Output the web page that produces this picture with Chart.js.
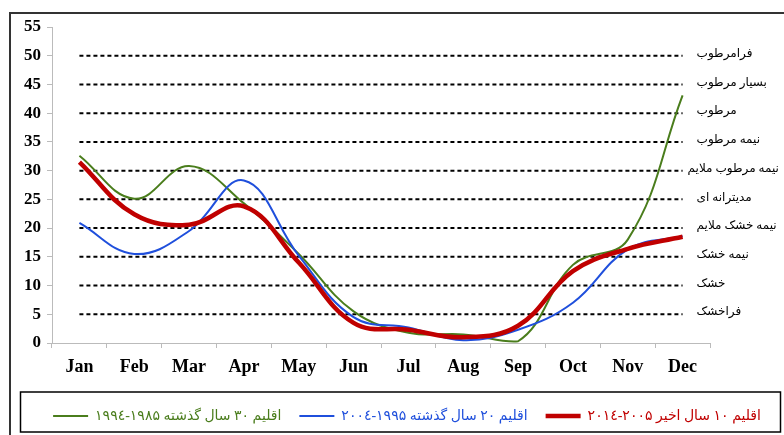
<!DOCTYPE html>
<html>
<head>
<meta charset="utf-8">
<script src="https://cdn.jsdelivr.net/npm/chart.js@4.4.1/dist/chart.umd.min.js"></script>
<style>
  html, body { margin: 0; padding: 0; background: #fff; }
  #wrap { width: 784px; height: 435px; position: relative; }
</style>
</head>
<body>
<div id="wrap"><canvas id="chart"></canvas></div>
<script>
const months = ['Jan', 'Feb', 'Mar', 'Apr', 'May', 'Jun', 'Jul', 'Aug', 'Sep', 'Oct', 'Nov', 'Dec'];

// climate index per month
const climate1985 = [32.6, 25.1, 30.8, 24.3, 15.5, 5.5, 1.8, 1.5, 0.3, 13.6, 18.0, 43.1];
const climate1995 = [20.9, 15.5, 19.5, 28.3, 15.2, 4.5, 2.7, 0.5, 2.3, 7.0, 16.3, 18.6];
const climate2005 = [31.5, 22.4, 20.6, 23.8, 14.0, 3.5, 2.3, 1.0, 3.0, 12.5, 16.4, 18.5];

const seriesNames = [
  'اقلیم ۳۰ سال گذشته ۱۹۸۵-۱۹۹٤',
  'اقلیم ۲۰ سال گذشته ۱۹۹۵-۲۰۰٤',
  'اقلیم ۱۰ سال اخیر ۲۰۰۵-۲۰۱٤'
];

// climate zone boundaries (dashed lines) and their names
const zoneLimits = [5, 10, 15, 20, 25, 30, 35, 40, 45, 50];
const zoneNames = ['فراخشک', 'خشک', 'نیمه خشک', 'نیمه خشک ملایم', 'مدیترانه ای',
  'نیمه مرطوب ملایم', 'نیمه مرطوب', 'مرطوب', 'بسیار مرطوب', 'فرامرطوب'];

const yMin = 0, yMax = 55, yStep = 5;

const serif = '"Liberation Serif", "Times New Roman", "DejaVu Sans", serif';

const zoneDatasets = zoneLimits.map((v, i) => ({
  label: zoneNames[i],
  data: months.map(() => v),
  borderColor: '#000',
  borderWidth: 2,
  borderDash: [4, 3],
  pointRadius: 0,
  tension: 0,
  order: 10,
  isZone: true
}));

const zoneLabels = {
  id: 'zoneLabels',
  afterDatasetsDraw(chart) {
    const ctx = chart.ctx;
    ctx.save();
    ctx.font = '12px ' + serif;
    ctx.fillStyle = '#000';
    ctx.textBaseline = 'middle';
    ctx.textAlign = 'left';
    ctx.direction = 'rtl';
    chart.data.datasets.forEach((ds, i) => {
      if (!ds.isZone) return;
      const pts = chart.getDatasetMeta(i).data;
      const p = pts[pts.length - 1];
      const w = ctx.measureText(ds.label).width;
      const x = w > 85 ? p.x + 5 : p.x + 14;
      ctx.fillText(ds.label, x, p.y - 2);
    });
    ctx.restore();
  }
};

// legend sits a little right of centre, inside its framed box
const legendShift = {
  id: 'legendShift',
  afterLayout(chart) {
    chart.legend.left += 30;
  }
};

const frames = {
  id: 'frames',
  afterDraw(chart) {
    const ctx = chart.ctx;
    const lg = chart.legend;
    ctx.save();
    ctx.strokeStyle = '#333';
    ctx.lineWidth = 2;
    ctx.strokeRect(10, 13, 800, 500);
    ctx.strokeStyle = '#000';
    ctx.lineWidth = 1.5;
    ctx.strokeRect(20.5, lg.top + 1, 760, lg.height - 2);
    ctx.restore();
  }
};

new Chart(document.getElementById('chart'), {
  type: 'line',
  data: {
    labels: months,
    datasets: [
      { label: seriesNames[0], data: climate1985, borderColor: '#4a7d1c', backgroundColor: '#4a7d1c',
        borderWidth: 2, pointRadius: 0, tension: 0.4, order: 3 },
      { label: seriesNames[1], data: climate1995, borderColor: '#1f4fdc', backgroundColor: '#1f4fdc',
        borderWidth: 2, pointRadius: 0, tension: 0.4, order: 2 },
      { label: seriesNames[2], data: climate2005, borderColor: '#c00000', backgroundColor: '#c00000',
        borderWidth: 4.5, pointRadius: 0, tension: 0.4, order: 1 },
      ...zoneDatasets
    ]
  },
  options: {
    responsive: true,
    maintainAspectRatio: false,
    animation: false,
    layout: { padding: { top: 27, right: 0, left: 0, bottom: 2 } },
    plugins: {
      tooltip: { enabled: false },
      legend: {
        position: 'bottom',
        textDirection: 'rtl',
        labels: {
          font: { family: serif, size: 14 },
          usePointStyle: true,
          pointStyle: 'line',
          pointStyleWidth: 35,
          padding: 18,
          sort: (a, b) => a.datasetIndex - b.datasetIndex,
          filter: (item, data) => !data.datasets[item.datasetIndex].isZone,
          generateLabels(chart) {
            const base = Chart.defaults.plugins.legend.labels.generateLabels(chart);
            return base.map(l => ({ ...l, fontColor: l.strokeStyle }));
          }
        }
      }
    },
    scales: {
      x: {
        offset: true,
        afterFit: s => { s.height = 48; },
        grid: { display: true, drawOnChartArea: false, offset: true, tickLength: 5, color: '#bbb' },
        border: { color: '#bbb' },
        ticks: { color: '#000', font: { family: serif, size: 18, weight: 'bold' }, padding: 9 }
      },
      y: {
        min: yMin, max: yMax,
        afterFit: s => { s.width = 52; },
        grid: { display: true, drawOnChartArea: false, tickLength: 5, color: '#bbb' },
        border: { color: '#bbb' },
        ticks: { stepSize: yStep, color: '#000', font: { family: serif, size: 17, weight: 'bold' }, padding: 6 }
      },
      // empty strip on the right that holds the zone names
      yRight: {
        position: 'right',
        afterFit: s => { s.width = 74; },
        grid: { display: false },
        border: { display: false },
        ticks: { display: false }
      }
    }
  },
  plugins: [zoneLabels, legendShift, frames]
});
</script>
</body>
</html>
